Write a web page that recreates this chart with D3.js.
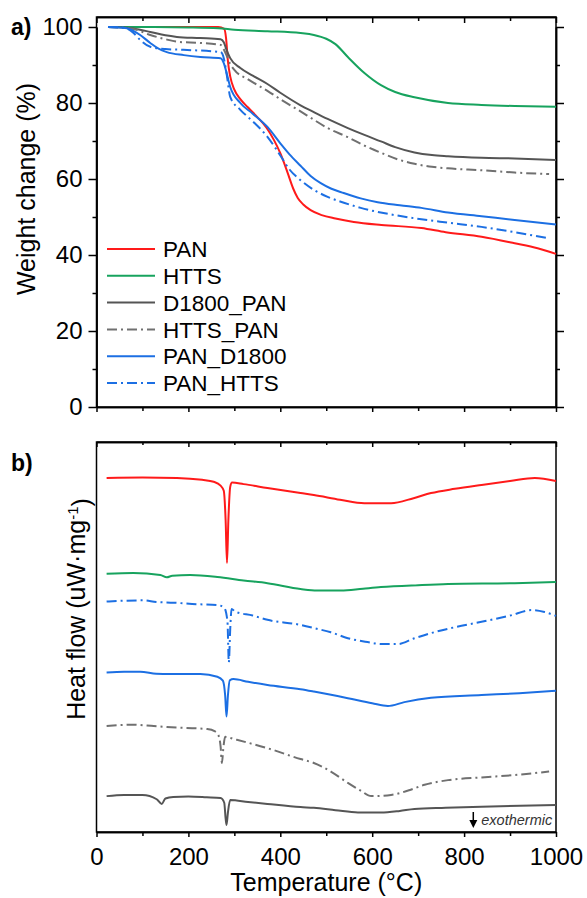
<!DOCTYPE html>
<html lang="en">
<head>
    <meta charset="UTF-8">
    <title>TGA / DSC</title>
    <script src="https://d3js.org/d3.v7.min.js"></script>
    <style>
        body { margin: 0; background: #fff; font-family: Arial, "Liberation Sans", sans-serif; }
        .axis path, .axis line { stroke: #000; stroke-width: 1.5px; }
        .axis text { font-size: 24px; fill: #000; font-family: Arial, "Liberation Sans", sans-serif; }
        .series { fill: none; stroke-width: 2px; stroke-linejoin: round; }
    </style>
</head>
<body>
<script>
    // series names / legend order
    const seriesNames = ["PAN", "HTTS", "D1800_PAN", "HTTS_PAN", "PAN_D1800", "PAN_HTTS"];
    const seriesColors = ["#ff1a1a", "#17a35e", "#555555", "#707070", "#1c6fe3", "#1c6fe3"];
    const seriesDashed = [false, false, false, true, false, true];

    // a) TGA: [temperature (°C), weight change (%)]
    const tgaPAN = [[25,100],[100,100],[200,100],[265,100],[278,99.5],[282,97],[286,91],[291,87],[300,83.5],[313,81],[330,78.8],[350,76.3],[370,73.5],[386,70.3],[400,66.8],[416,61.6],[428,57.5],[438,55],[450,53.3],[466,51.8],[490,50.5],[520,49.6],[560,48.7],[620,47.9],[707,47.1],[760,46],[838,44.8],[910,43.1],[960,41.8],[1000,40.3]];
    const tgaHTTS = [[25,100],[100,100],[200,99.9],[265,99.7],[300,99.3],[372,98.9],[444,98.4],[473,97.9],[500,96.9],[520,95.5],[547,92.1],[583,87.9],[619,84.7],[650,82.9],[692,81.5],[765,80],[838,79.5],[910,79.2],[1000,79]];
    const tgaD1800PAN = [[25,100],[60,99.9],[80,99.6],[117,98.7],[150,97.8],[175,97.4],[226,97.1],[270,96.8],[277,96],[283,94],[291,91.8],[313,89.2],[340,87.2],[372,85],[400,82.7],[444,79.4],[473,77.6],[503,75.8],[547,73.4],[583,71.6],[619,69.9],[650,68.4],[692,67],[730,66.3],[765,66],[838,65.6],[910,65.4],[1000,65]];
    const tgaHTTSPAN = [[25,100],[80,99.5],[117,97.9],[150,96.8],[177,96.1],[226,95.8],[270,95.3],[281,93.1],[290,90.5],[300,88.7],[330,86.2],[372,83.2],[400,81],[444,77.8],[473,75.6],[503,73.4],[547,71],[583,68.8],[619,66.9],[655,65.2],[692,64],[730,63.2],[765,62.8],[838,62.3],[910,61.7],[985,61.3]];
    const tgaPAND1800 = [[25,100],[66,99.7],[80,99],[95,97.9],[117,95.8],[135,94.3],[153,93.4],[190,92.6],[226,92.1],[270,91.8],[277,90.5],[284,87.5],[291,84.2],[313,80],[340,77.2],[372,73.7],[400,69.4],[420,66.5],[444,63.5],[466,60.8],[488,58.9],[510,57.5],[538,56.3],[575,54.9],[612,53.9],[660,53.1],[707,52.4],[765,51.2],[838,50.2],[910,49.2],[1000,48]];
    const tgaPANHTTS = [[25,100],[60,99.8],[80,98.5],[95,96.6],[117,94.8],[150,94.2],[189,94],[270,93.4],[277,91.8],[284,87],[291,81.6],[313,78.2],[340,75.2],[372,71.1],[400,66.2],[420,62.5],[444,59.7],[475,57],[503,55.3],[540,53.7],[575,52.4],[640,50.7],[707,49.4],[765,48.5],[838,47.4],[910,46],[984,44.4]];

    // b) DSC: [temperature (°C), heat flow (arb. units, stacked)]
    const dscPAN = [[22,90.8],[100,90.9],[175,90.8],[230,90.3],[255,89.8],[270,88.8],[277,87.5],[281,80],[284,69],[287,80],[291,88.5],[295,89.6],[320,89.2],[372,88.2],[444,86.9],[473,86.4],[530,85.2],[583,84.3],[641,84.3],[690,85.6],[728,86.9],[780,88],[838,89],[900,90],[954,90.8],[1000,90]];
    const dscHTTS = [[22,66.2],[80,66.4],[139,65.9],[153,65.3],[165,65.7],[204,65.9],[263,65.4],[320,64.5],[372,63.8],[444,62.3],[480,61.9],[532,61.9],[580,62.4],[619,62.8],[700,63.3],[765,63.6],[910,63.8],[1000,64.1]];
    const dscD1800PAN = [[22,9.2],[60,9.5],[100,9.5],[131,8.4],[142,7.2],[150,8.6],[167,9],[200,9.1],[240,8.9],[270,8.7],[278,7.5],[281,3.5],[283,1.8],[286,5],[291,8.2],[330,7.7],[372,7.2],[444,6.4],[473,6.2],[520,5.6],[569,5],[619,5],[660,5.4],[692,5.9],[760,6.2],[838,6.5],[1000,6.9]];
    const dscHTTSPAN = [[22,27.2],[80,27.5],[110,27.3],[153,26.9],[241,26.4],[258,25.8],[265,24.9],[270,22],[273,17.7],[276,21.5],[280,24.4],[300,23.8],[372,21.5],[444,18.7],[473,17.7],[510,15.5],[547,12.6],[575,10.6],[598,9.2],[641,9.5],[680,10.7],[714,12.1],[765,13.3],[838,14],[910,14.6],[985,15.5]];
    const dscPAND1800 = [[22,40.9],[60,41.1],[95,41.1],[130,40.6],[160,40.5],[226,40.5],[263,39.8],[275,38.8],[280,35],[283,29.6],[286,35],[290,38.9],[298,39.2],[330,38.5],[372,37.7],[444,36.6],[473,36],[547,34.3],[600,33],[634,32.3],[670,33.3],[728,34.4],[838,35.1],[920,35.6],[1000,36.2]];
    const dscPANHTTS = [[22,59.1],[60,59.3],[101,59.4],[130,59],[167,58.8],[220,58.4],[263,58.2],[278,57.5],[285,54],[288,43.5],[291,52],[294,57.2],[302,56.5],[340,55.5],[372,54.4],[444,53.1],[473,52.3],[510,51.2],[547,49.7],[590,48.7],[619,48.2],[656,48.2],[690,49.6],[728,51],[780,52.5],[838,53.9],[900,55.5],[947,56.9],[975,56.4],[1000,55.4]];

    const tgaData = [tgaPAN, tgaHTTS, tgaD1800PAN, tgaHTTSPAN, tgaPAND1800, tgaPANHTTS];
    const dscData = [dscPAN, dscHTTS, dscD1800PAN, dscHTTSPAN, dscPAND1800, dscPANHTTS];

    const xTicks = [0, 200, 400, 600, 800, 1000];
    const xMinor = [100, 300, 500, 700, 900];
    const yTicks = [0, 20, 40, 60, 80, 100];
    const yMinor = [10, 30, 50, 70, 90];

    const width = 587, height = 898;
    const left = 96.5, right = 556;
    const topA = 17, bottomA = 407;
    const topB = 442, bottomB = 832;
    const dash = "10,4,2,4";

    const svg = d3.select("body").append("svg")
        .attr("width", width)
        .attr("height", height);

    const x = d3.scaleLinear().domain([0, 1000]).range([left, right]);
    const yA = d3.scaleLinear().domain([0, 100]).range([bottomA, 27]);
    const yB = d3.scaleLinear().domain([0, 100]).range([bottomB, topB]);

    // ---------- panel a ----------
    const gA = svg.append("g");

    gA.append("g").attr("class", "axis")
        .attr("transform", `translate(${left},0)`)
        .call(d3.axisLeft(yA).tickValues(yTicks).tickSize(8).tickPadding(6).tickFormat(d3.format("d")).tickSizeOuter(0));
    gA.append("g").attr("class", "axis")
        .attr("transform", `translate(${left},0)`)
        .call(d3.axisLeft(yA).tickValues(yMinor).tickSize(4).tickFormat("").tickSizeOuter(0));
    gA.append("g").attr("class", "axis")
        .attr("transform", `translate(${right},0)`)
        .call(d3.axisRight(yA).tickValues(yTicks).tickSize(8).tickFormat("").tickSizeOuter(0));
    gA.append("g").attr("class", "axis")
        .attr("transform", `translate(${right},0)`)
        .call(d3.axisRight(yA).tickValues(yMinor).tickSize(4).tickFormat("").tickSizeOuter(0));
    gA.append("g").attr("class", "axis")
        .attr("transform", `translate(0,${bottomA})`)
        .call(d3.axisBottom(x).tickValues(xTicks).tickSize(5).tickFormat("").tickSizeOuter(0));
    gA.append("g").attr("class", "axis")
        .attr("transform", `translate(0,${bottomA})`)
        .call(d3.axisBottom(x).tickValues(xMinor).tickSize(4).tickFormat("").tickSizeOuter(0));
    gA.append("g").attr("class", "axis")
        .attr("transform", `translate(0,${topA})`)
        .call(d3.axisBottom(x).tickValues(xTicks).tickSize(6).tickFormat("").tickSizeOuter(0));
    gA.append("g").attr("class", "axis")
        .attr("transform", `translate(0,${topA})`)
        .call(d3.axisBottom(x).tickValues(xMinor).tickSize(4).tickFormat("").tickSizeOuter(0));
    gA.append("rect")
        .attr("x", left).attr("y", topA)
        .attr("width", right - left).attr("height", bottomA - topA)
        .attr("fill", "none").attr("stroke", "#000").attr("stroke-width", 1.5);

    const lineA = d3.line().x(d => x(d[0])).y(d => yA(d[1])).curve(d3.curveMonotoneX);
    gA.selectAll(".series")
        .data(tgaData)
        .enter()
        .append("path")
        .attr("class", "series")
        .attr("d", lineA)
        .attr("stroke", (d, i) => seriesColors[i])
        .attr("stroke-dasharray", (d, i) => seriesDashed[i] ? dash : null);

    // legend
    const legend = gA.append("g");
    const legendY = d3.scalePoint().domain(seriesNames).range([249, 383]);
    seriesNames.forEach((name, i) => {
        legend.append("line")
            .attr("x1", 107).attr("x2", 155)
            .attr("y1", legendY(name)).attr("y2", legendY(name))
            .attr("stroke", seriesColors[i])
            .attr("stroke-width", 2)
            .attr("stroke-dasharray", seriesDashed[i] ? dash : null);
        legend.append("text")
            .attr("x", 163).attr("y", legendY(name))
            .attr("dy", "0.36em")
            .style("font-size", "22.5px")
            .text(name);
    });

    svg.append("text")
        .attr("transform", "translate(35,189) rotate(-90)")
        .attr("text-anchor", "middle")
        .style("font-size", "25px")
        .text("Weight change (%)");

    svg.append("text")
        .attr("x", 11).attr("y", 35)
        .style("font-size", "23px")
        .style("font-weight", "bold")
        .text("a)");

    // ---------- panel b ----------
    const gB = svg.append("g");

    gB.append("g").attr("class", "axis")
        .attr("transform", `translate(0,${bottomB})`)
        .call(d3.axisBottom(x).tickValues(xTicks).tickSize(5).tickPadding(11).tickFormat(d3.format("d")).tickSizeOuter(0));
    gB.append("g").attr("class", "axis")
        .attr("transform", `translate(0,${bottomB})`)
        .call(d3.axisBottom(x).tickValues(xMinor).tickSize(4).tickFormat("").tickSizeOuter(0));
    gB.append("g").attr("class", "axis")
        .attr("transform", `translate(0,${topB})`)
        .call(d3.axisBottom(x).tickValues(xTicks).tickSize(5).tickFormat("").tickSizeOuter(0));
    gB.append("g").attr("class", "axis")
        .attr("transform", `translate(0,${topB})`)
        .call(d3.axisBottom(x).tickValues(xMinor).tickSize(3).tickFormat("").tickSizeOuter(0));
    gB.append("rect")
        .attr("x", left).attr("y", topB)
        .attr("width", right - left).attr("height", bottomB - topB)
        .attr("fill", "none").attr("stroke", "#000").attr("stroke-width", 1.5);

    const lineB = d3.line().x(d => x(d[0])).y(d => yB(d[1])).curve(d3.curveMonotoneX);
    gB.selectAll(".series")
        .data(dscData)
        .enter()
        .append("path")
        .attr("class", "series")
        .attr("d", lineB)
        .attr("stroke", (d, i) => seriesColors[i])
        .attr("stroke-dasharray", (d, i) => seriesDashed[i] ? dash : null);

    // exothermic marker
    const exoX = x(820);
    gB.append("line")
        .attr("x1", exoX).attr("x2", exoX)
        .attr("y1", 812).attr("y2", 822)
        .attr("stroke", "#000").attr("stroke-width", 1.5);
    gB.append("path")
        .attr("d", `M${exoX - 4},${820} L${exoX + 4},${820} L${exoX},${828} Z`)
        .attr("fill", "#000");
    gB.append("text")
        .attr("x", exoX + 8).attr("y", 825)
        .style("font-size", "14.5px")
        .style("font-style", "italic")
        .style("fill", "#333")
        .text("exothermic");

    const hf = svg.append("text")
        .attr("transform", "translate(85,609) rotate(-90)")
        .attr("text-anchor", "middle")
        .style("font-size", "25px");
    hf.append("tspan").text("Heat flow (uW·mg");
    hf.append("tspan").attr("dy", "-0.45em").style("font-size", "15px").text("-1");
    hf.append("tspan").attr("dy", "0.45em").text(")");

    svg.append("text")
        .attr("x", 11).attr("y", 471)
        .style("font-size", "23px")
        .style("font-weight", "bold")
        .text("b)");

    svg.append("text")
        .attr("x", (left + right) / 2).attr("y", 891)
        .attr("text-anchor", "middle")
        .style("font-size", "25px")
        .text("Temperature (°C)");
</script>
</body>
</html>
